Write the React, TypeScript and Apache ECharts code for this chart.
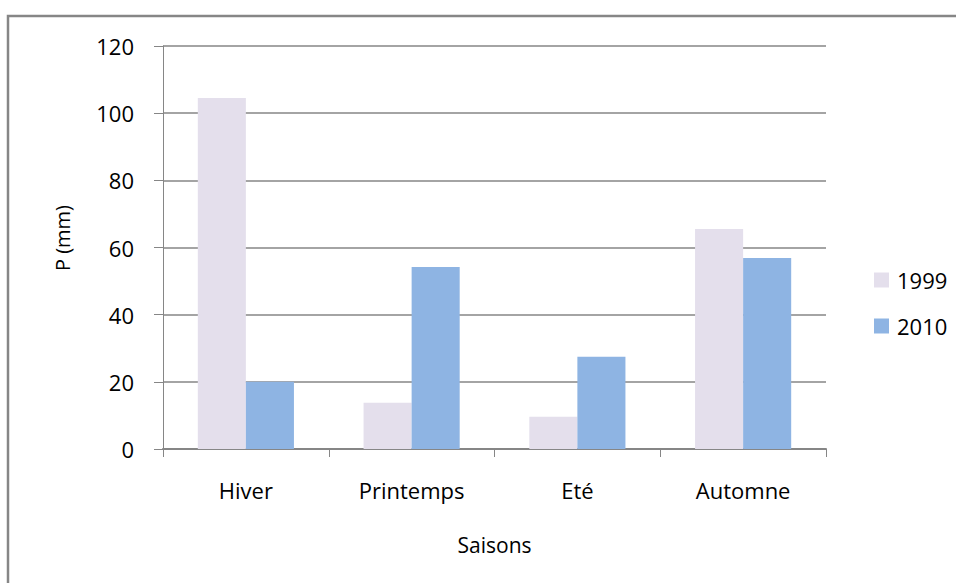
import React, { useEffect, useRef } from "react";
import * as echarts from "echarts";

const categories = ["Hiver", "Printemps", "Eté", "Automne"];
const seriesNames = ["1999", "2010"];
const values1999 = [104.5, 13.8, 9.6, 65.5];
const values2010 = [20, 54.2, 27.5, 56.9];
const yTicks = { min: 0, max: 120, interval: 20 };

const FONT = "Open Sans";
const FS = 22;

export default function App() {
  const ref = useRef<HTMLDivElement>(null);
  useEffect(() => {
    document.body.style.margin = "0";
    const chart = echarts.init(ref.current!, null, { renderer: "svg" });
    chart.setOption({
      animation: false,
      backgroundColor: "#ffffff",
      textStyle: { fontFamily: FONT, color: "#000" },
      graphic: [
        {
          type: "polyline",
          shape: { points: [[8, 600], [8, 16], [960, 16]] },
          style: { stroke: "#868686", lineWidth: 2.5, fill: "none" },
          z: 10,
        },
        {
          type: "text",
          x: 62,
          y: 238,
          rotation: Math.PI / 2,
          style: {
            text: "P (mm)",
            fontSize: 20,
            fontFamily: FONT,
            fill: "#000",
            textAlign: "center",
            textVerticalAlign: "middle",
          },
        },
      ],
      grid: { left: 163, right: 130, top: 46, bottom: 134, containLabel: false },
      legend: {
        orient: "vertical",
        left: 869,
        top: 264,
        itemWidth: 15,
        itemHeight: 15,
        itemGap: 24,
        icon: "rect",
        textStyle: { fontSize: FS, fontFamily: FONT, color: "#000", padding: [0, 0, 0, 3] },
        data: seriesNames,
      },
      xAxis: {
        type: "category",
        data: categories,
        name: "Saisons",
        nameLocation: "middle",
        nameGap: 85,
        nameTextStyle: { fontSize: 21, fontFamily: FONT, color: "#000" },
        axisLine: { lineStyle: { color: "#868686", width: 2 } },
        axisTick: { show: true, length: 8, lineStyle: { color: "#868686", width: 1 } },
        axisLabel: { fontSize: FS, fontFamily: FONT, color: "#000", margin: 30 },
      },
      yAxis: {
        type: "value",
        min: yTicks.min,
        max: yTicks.max,
        interval: yTicks.interval,
        axisLine: { show: true, lineStyle: { color: "#868686", width: 1 } },
        axisTick: { show: true, length: 9, lineStyle: { color: "#868686", width: 1 } },
        axisLabel: { fontSize: FS, fontFamily: FONT, color: "#000", margin: 29 },
        splitLine: { show: true, lineStyle: { color: "#868686", width: 1.5 } },
      },
      series: [
        {
          name: seriesNames[0],
          type: "bar",
          data: values1999,
          itemStyle: { color: "#E4DFEC" },
          barGap: "0%",
          barCategoryGap: "42%",
        },
        {
          name: seriesNames[1],
          type: "bar",
          data: values2010,
          itemStyle: { color: "#8EB4E3" },
          barGap: "0%",
          barCategoryGap: "42%",
        },
      ],
    });
    return () => chart.dispose();
  }, []);
  return <div ref={ref} style={{ width: 956, height: 583 }} />;
}
